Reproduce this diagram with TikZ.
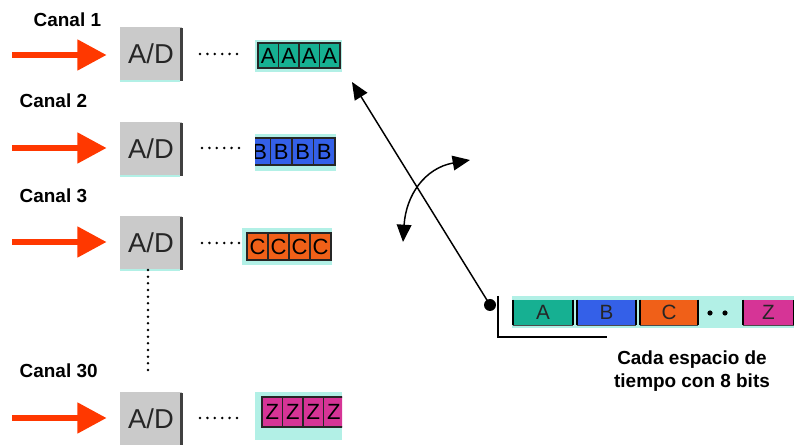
\documentclass[tikz,border=0pt]{standalone}
\usepackage{fontspec}
\setmainfont{Liberation Sans}
\usetikzlibrary{arrows.meta}

\definecolor{redarr}{RGB}{255,56,0}
\definecolor{adgray}{RGB}{202,202,202}
\definecolor{cyanbg}{RGB}{178,240,230}
\definecolor{cteal}{RGB}{22,176,146}
\definecolor{cblue}{RGB}{52,96,232}
\definecolor{corange}{RGB}{240,96,24}
\definecolor{cmagenta}{RGB}{214,52,150}

\tikzset{
  canal/.style={anchor=base west,font=\bfseries\fontsize{14.2}{17}\selectfont},
  adbox/.style={fill=adgray,minimum width=46.5pt,minimum height=40.5pt,inner sep=0pt,
    text=black!85,font=\fontsize{20.5}{24}\selectfont},
  adshade/.style={draw=black!75,line width=2.2pt},
  adbase/.style={draw=cyanbg,line width=1.5pt},
  redarrow/.style={draw=redarr,line width=5pt,shorten >=9.75pt,
    -{Triangle[length=22pt,width=22pt]}},
  dotrow/.style={line width=2.1pt,line cap=round,dash pattern=on 0pt off 5.55pt},
  blkcell/.style={draw=black!85,line width=0.8pt,minimum width=15.4pt,inner sep=0pt,
    font=\fontsize{16.5}{18}\selectfont},
  framecell/.style={minimum height=18.75pt,inner sep=0pt,text=black!85,
    font=\fontsize{15.5}{18}\selectfont},
  cellside/.style={line width=1.6pt},
  bigdot/.style={circle,fill=black,minimum size=9pt,inner sep=0pt},
  tipA/.style={-{Triangle[length=13pt,width=11pt]}},
}

\begin{document}
\begin{tikzpicture}[x=0.75pt,y=-0.75pt]
  \useasboundingbox (0,0) rectangle (794,445);

  % channel labels
  \node[canal] (c1) at (29,27) {Canal 1};
  \node[canal] (c2) at (15,108) {Canal 2};
  \node[canal] (c3) at (15,203) {Canal 3};
  \node[canal] (c30) at (15,378) {Canal 30};

  % converters
  \node[adbox] (ad1) at (151,54) {A/D};
  \node[adbox] (ad2) at (151,149) {A/D};
  \node[adbox] (ad3) at (151,243) {A/D};
  \node[adbox] (ad30) at (151,419) {A/D};
  \foreach \n in {ad1,ad2,ad3,ad30} {
    \draw[adshade] ([xshift=-0.8pt,yshift=-1pt]\n.north east) -- ([xshift=-0.8pt]\n.south east);
    \draw[adbase] (\n.south west) -- ([xshift=-1.6pt]\n.south east);
  }

  % inputs
  \coordinate (in1) at (12,55);
  \coordinate (in2) at (12,148);
  \coordinate (in3) at (12,242);
  \coordinate (in30) at (12,418);
  \draw[redarrow] (in1) -- (in1 -| ad1.west);
  \draw[redarrow] (in2) -- (in2 -| ad2.west);
  \draw[redarrow] (in3) -- (in3 -| ad3.west);
  \draw[redarrow] (in30) -- (in30 -| ad30.west);

  % dots after each converter
  \draw[dotrow] (200,54) -- (238,54);
  \draw[dotrow] (202,148) -- (240,148);
  \draw[dotrow] (202,243) -- (240,243);
  \draw[dotrow] (200,418) -- (238,418);
  \draw[line width=2.1pt,line cap=round,dash pattern=on 0pt off 5pt] (148,270) -- (148,373);

  % sample blocks
  \fill[cyanbg] (255,40) rectangle (342,72);
  \foreach \i in {0,...,3}
    \node[blkcell,fill=cteal,minimum height=18.75pt] (a\i) at (268.25+\i*20.5,55.5) {A};

  \begin{scope}
    \clip (255,134) rectangle (336,171);
    \fill[cyanbg] (255,134) rectangle (336,171);
    \foreach \i in {0,...,3}
      \node[blkcell,fill=cblue,minimum width=16.1pt,minimum height=20.25pt] (b\i) at (259.75+\i*21.5,151.5) {B};
  \end{scope}

  \fill[cyanbg] (242,228) rectangle (332,265);
  \foreach \i in {0,...,3}
    \node[blkcell,fill=corange,minimum width=15.75pt,minimum height=20.25pt] (k\i) at (257.5+\i*21,246.5) {C};

  \begin{scope}
    \clip (255,392) rectangle (342,440);
    \fill[cyanbg] (255,392) rectangle (342,440);
    \foreach \i in {0,...,3}
      \node[blkcell,fill=cmagenta,minimum height=22.5pt] (z\i) at (272.25+\i*20.5,412) {Z};
  \end{scope}

  % multiplexed frame
  \fill[cyanbg] (512,296) rectangle (794,328);
  \node[framecell,fill=cteal,minimum width=45pt] (fA) at (543,312.5) {A};
  \node[framecell,fill=cblue,minimum width=44.25pt] (fB) at (606.5,312.5) {B};
  \node[framecell,fill=corange,minimum width=43.5pt] (fC) at (669,312.5) {C};
  \node[framecell,fill=cmagenta,minimum width=38.25pt] (fZ) at (768.5,312.5) {Z};
  \foreach \n in {fA,fB,fC,fZ} {
    \draw[cellside] (\n.north west) -- (\n.south west);
    \draw[cellside] (\n.north east) -- (\n.south east);
    \draw[line width=0.6pt,black!70] (\n.south west) -- (\n.south east);
  }
  \fill (710,313) circle (2.6);
  \fill (725,313) circle (2.6);

  % pointer and rotation
  \node[bigdot] (pt) at (490,305) {};
  \coordinate (tip) at (352,82);
  \draw[tipA,line width=1.1pt] (pt.center) -- (tip);
  \coordinate (cvA) at (403,242);
  \coordinate (cvB) at (470,160);
  \draw[line width=1.1pt,{Triangle[length=13pt,width=11pt]}-{Triangle[length=13pt,width=11pt]}]
    (cvA) .. controls (406,195) and (425,168) .. (cvB);
  \draw[line width=1.1pt] (498,296) |- (607,337);

  \node[anchor=north,inner sep=0pt,align=center,
    font=\bfseries\fontsize{14.2}{17.25}\selectfont] (note) at (692,351)
    {Cada espacio de\\tiempo con 8 bits};
\end{tikzpicture}
\end{document}
